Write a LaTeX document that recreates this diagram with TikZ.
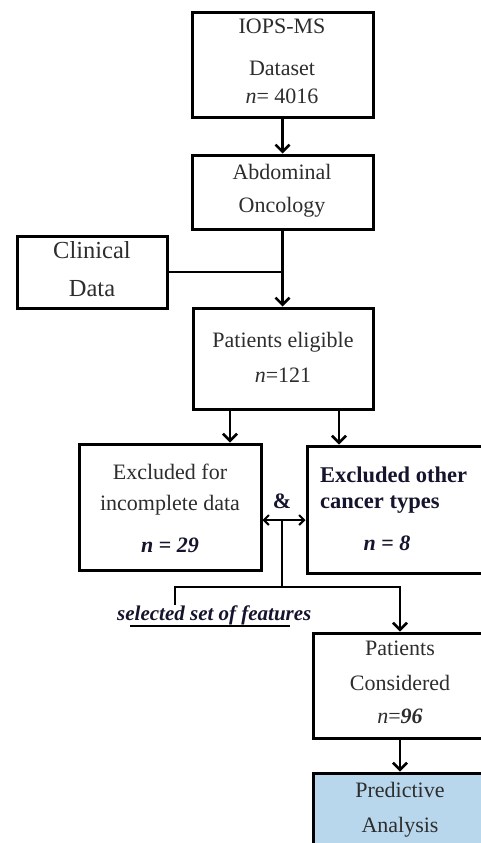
\documentclass[tikz,border=0pt]{standalone}
\usepackage{fontspec}
\setmainfont{Liberation Serif}
\usetikzlibrary{arrows.meta}
\definecolor{boxblue}{RGB}{184,215,236}
\definecolor{txt}{RGB}{45,45,45}
\definecolor{navy}{RGB}{20,20,45}
\tikzset{
  box/.style={draw=black, line width=3pt, rectangle, inner sep=0pt},
  lbl/.style={anchor=base, inner sep=0pt, text=txt, font=\fontsize{22}{26}\selectfont},
  lblb/.style={anchor=base west, inner sep=0pt, text=navy, font=\fontsize{22.5}{26}\selectfont\bfseries},
  conn/.style={line width=2.5pt},
  arr/.style={conn, -{Straight Barb[length=7pt,width=14pt]}},
  darr/.style={line width=2pt, {Straight Barb[length=5pt,width=10pt]}-{Straight Barb[length=5pt,width=10pt]}}
}
\begin{document}
\begin{tikzpicture}[x=1pt,y=-1pt]
\clip (0,0) rectangle (481,843);
\fill[white] (0,0) rectangle (481,843);
% boxes
\node[box, minimum width=181pt, minimum height=104pt] (b1) at (282.5,65) {};
\node[box, minimum width=181pt, minimum height=74pt] (b2) at (282.5,192) {};
\node[box, minimum width=150pt, minimum height=72pt] (cd) at (92,272) {};
\node[box, minimum width=180pt, minimum height=101pt] (b3) at (283,358.5) {};
\node[box, minimum width=182pt, minimum height=126pt] (b4) at (170,507) {};
\node[box, minimum width=180pt, minimum height=127pt] (b5) at (397,509.5) {};
\node[box, minimum width=174pt, minimum height=105pt] (b6) at (400,685.5) {};
\node[box, fill=boxblue, minimum width=174pt, minimum height=90pt] (b7) at (400,818) {};
% texts
\node[lbl] (t1a) at (282,34) {IOPS-MS};
\node[lbl] (t1b) at (282,75) {Dataset};
\node[lbl] (t1c) at (282,103) {\textit{n}= 4016};
\node[lbl] (t2a) at (282,179) {Abdominal};
\node[lbl] (t2b) at (282,212) {Oncology};
\node[lbl, font=\fontsize{24.5}{28}\selectfont] (tca) at (92,258) {Clinical};
\node[lbl, font=\fontsize{24.5}{28}\selectfont] (tcb) at (92,296) {Data};
\node[lbl] (t3a) at (283,347) {Patients eligible};
\node[lbl] (t3b) at (283,382) {\textit{n}=121};
\node[lbl] (t4a) at (170,479) {Excluded for};
\node[lbl] (t4b) at (170,510) {incomplete data};
\node[lbl, text=navy] (t4c) at (170,552) {\textbf{\textit{n}} \textbf{= \textit{29}}};
\node[lblb] (t5a) at (320,482) {Excluded other};
\node[lblb] (t5b) at (320,508) {cancer types};
\node[lbl, text=navy] (t5c) at (387,550) {\textbf{\textit{n} = \textit{8}}};
\node[lbl, text=navy, font=\fontsize{22}{26}\selectfont\bfseries] (amp) at (282,508) {\&};
\node[lbl] (t6a) at (400,655) {Patients};
\node[lbl] (t6b) at (400,690) {Considered};
\node[lbl] (t6c) at (400,723) {\textit{n}=\textbf{\textit{96}}};
\node[lbl] (t7a) at (400,797) {Predictive};
\node[lbl] (t7b) at (400,832) {Analysis};
\node[anchor=base west, inner sep=0pt, text=navy, font=\fontsize{21}{24}\selectfont\bfseries\itshape] (sel) at (117,620) {selected set of features};
\draw[line width=1.6pt] ([xshift=13pt,yshift=-6pt]sel.base west) -- ([xshift=173pt,yshift=-6pt]sel.base west);
% connectors
\coordinate (xl) at (230,0);
\coordinate (xr) at (339,0);
\coordinate (dj) at (282,520);
\coordinate (jn) at (282,587);
\coordinate (tick) at (175,605);
\draw[arr] (b1.south) -- (b2.north);
\draw[arr] (b2.south) -- (b2.south |- b3.north);
\draw[conn] (cd.east) -- (cd.east -| b2.south);
\draw[arr] (xl |- b3.south) -- (xl |- b4.north);
\draw[arr] (xr |- b3.south) -- (xr |- b5.north);
\draw[darr] (b4.east |- dj) -- (b5.west |- dj);
\draw[conn] (dj) -- (jn);
\draw[arr] (tick) -- (tick |- jn) -- (b6.north |- jn) -- (b6.north);
\draw[arr] (b6.south) -- (b7.north);
\end{tikzpicture}
\end{document}
